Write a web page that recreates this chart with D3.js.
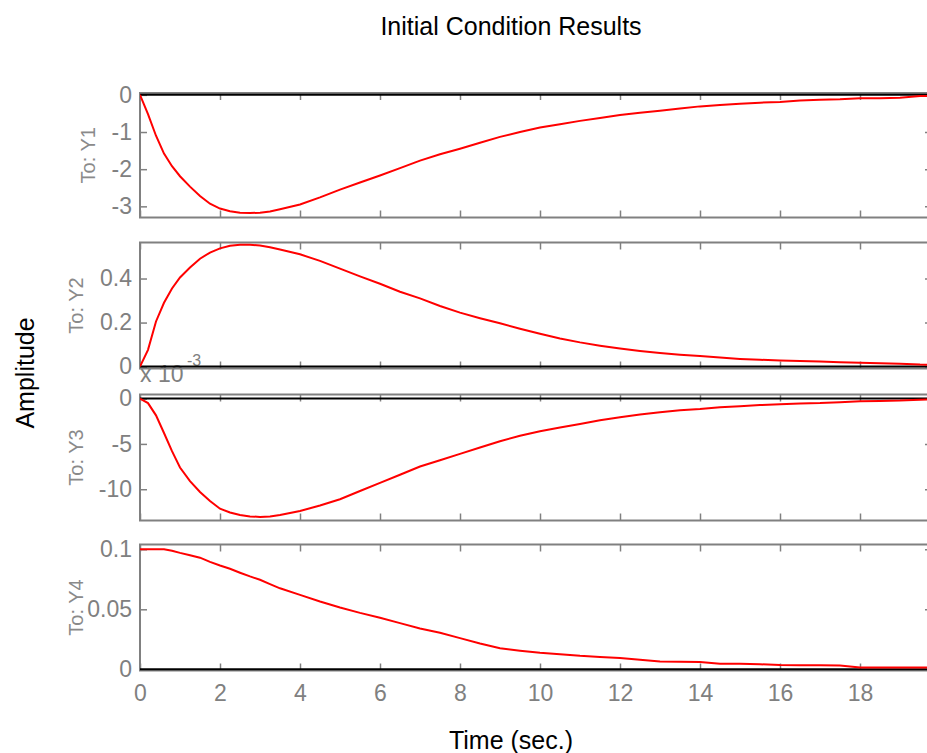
<!DOCTYPE html>
<html><head><meta charset="utf-8">
<script src="https://cdn.jsdelivr.net/npm/d3@7"></script>
<style>
body{margin:0;background:#fff}
svg{display:block}
text{font-family:"Liberation Sans",Arial,Helvetica,sans-serif}
</style>
</head><body>
<svg id="c" width="927" height="753"></svg>
<script>
// ---- data ----
const time = [0,0.2,0.4,0.6,0.8,1.0,1.25,1.5,1.75,2.0,2.25,2.5,2.75,3.0,3.25,3.5,
  4,4.5,5,5.5,6,6.5,7,7.5,8,8.5,9,9.5,10,10.5,11,11.5,12,12.5,13,13.5,14,14.5,15,15.5,16,16.5,17,17.5,18,18.5,19,19.5,19.8];
const y1 = [0,-0.52,-1.1,-1.58,-1.92,-2.19,-2.47,-2.72,-2.93,-3.06,-3.13,-3.17,-3.18,-3.17,-3.14,-3.08,
  -2.95,-2.76,-2.55,-2.36,-2.17,-1.97,-1.77,-1.60,-1.45,-1.29,-1.13,-1.0,-0.88,-0.79,-0.70,-0.62,-0.54,-0.48,-0.43,-0.37,-0.31,-0.27,-0.24,-0.21,-0.19,-0.15,-0.13,-0.12,-0.09,-0.09,-0.08,-0.03,-0.03];
const y2 = [0,0.076,0.205,0.29,0.355,0.405,0.45,0.49,0.518,0.537,0.549,0.553,0.553,0.55,0.542,0.532,
  0.51,0.48,0.445,0.41,0.376,0.34,0.31,0.275,0.245,0.22,0.197,0.172,0.149,0.128,0.11,0.095,0.082,0.071,0.062,0.054,0.048,0.041,0.035,0.031,0.028,0.026,0.023,0.02,0.017,0.015,0.013,0.009,0.008];
// Y3 in units of 1e-3
const y3 = [0,-0.5,-1.85,-3.8,-5.8,-7.6,-9.1,-10.3,-11.3,-12.15,-12.57,-12.85,-13.0,-13.05,-13.0,-12.85,
  -12.4,-11.8,-11.1,-10.2,-9.3,-8.4,-7.5,-6.8,-6.1,-5.4,-4.7,-4.1,-3.6,-3.2,-2.8,-2.4,-2.05,-1.75,-1.5,-1.3,-1.15,-0.95,-0.85,-0.72,-0.63,-0.55,-0.5,-0.4,-0.3,-0.27,-0.22,-0.12,-0.1];
const y4 = [0.1,0.1,0.1,0.1,0.0988,0.097,0.095,0.093,0.0895,0.0865,0.0838,0.0805,0.0774,0.0746,0.071,0.0675,
  0.062,0.0565,0.0515,0.047,0.043,0.0385,0.034,0.0305,0.026,0.0215,0.0175,0.0155,0.0138,0.0126,0.0112,0.0102,0.0095,0.008,0.0064,0.0062,0.006,0.0047,0.0047,0.0042,0.0035,0.0034,0.0033,0.0032,0.0015,0.0014,0.0014,0.0014,0.0014];
const channelLabels = ["To: Y1","To: Y2","To: Y3","To: Y4"];
const yTicks = [[0,-1,-2,-3],[0,0.2,0.4],[0,-5,-10],[0,0.05,0.1]];
const yLimits = [[-3.3,0.05],[-0.0086,0.5636],[-13.45,0.45],[-0.001,0.104]];
const xTicks = [0,2,4,6,8,10,12,14,16,18];
const xLimits = [0,19.8];
const titleText = "Initial Condition Results";
const xLabelText = "Time (sec.)";
const yLabelText = "Amplitude";
const exponentBase = "x 10", exponentPower = "-3";

// ---- drawing ----
const svg = d3.select("#c");
const gray = "#808080";
const left = 140, right = 932;
const panelTop = [93, 242.5, 394.5, 544.5];
const panelBot = [217.5, 368.5, 520.5, 670.5];
const labelX = [95, 83, 83, 83];
const series = [y1, y2, y3, y4];
const x = d3.scaleLinear().domain(xLimits).range([left, right]);

// title & axis labels
svg.append("text").attr("x",511).attr("y",35).attr("text-anchor","middle")
  .style("font-size","25px").attr("fill","#000").text(titleText);
svg.append("text").attr("x",511).attr("y",749).attr("text-anchor","middle")
  .style("font-size","25px").attr("fill","#000").text(xLabelText);
svg.append("text").attr("transform","translate(34,373) rotate(-90)").attr("text-anchor","middle")
  .style("font-size","25px").attr("fill","#000").text(yLabelText);

// exponent label for panel 3
const ex = svg.append("text").attr("x",140).attr("y",382).attr("fill",gray).style("font-size","23px");
ex.append("tspan").text(exponentBase);
ex.append("tspan").attr("x",187).attr("y",366).style("font-size","16px").text(exponentPower);

const defs = svg.append("defs");

series.forEach((vals, i) => {
  const y = d3.scaleLinear().domain(yLimits[i]).range([panelBot[i], panelTop[i]]);
  const g = svg.append("g");
  defs.append("clipPath").attr("id","clip"+i).append("rect")
    .attr("x",left).attr("y",panelTop[i]).attr("width",right-left).attr("height",panelBot[i]-panelTop[i]);

  const la = g.append("g").attr("transform",`translate(${left},0)`)
    .call(d3.axisLeft(y).tickValues(yTicks[i]).tickSize(-7).tickPadding(8).tickFormat(d=>String(d)));
  g.append("g").attr("transform",`translate(${right},0)`)
    .call(d3.axisRight(y).tickValues(yTicks[i]).tickSize(-7).tickFormat(""));
  g.append("g").attr("transform",`translate(0,${panelTop[i]})`)
    .call(d3.axisTop(x).tickValues(xTicks).tickSize(-7).tickFormat(""));
  g.append("g").attr("transform",`translate(0,${panelBot[i]})`)
    .call(d3.axisBottom(x).tickValues(xTicks).tickSize(-7).tickPadding(14)
      .tickFormat(i===3 ? (d=>String(d)) : ""));
  g.selectAll(".domain").remove();
  g.selectAll(".tick line").attr("stroke",gray).attr("stroke-width",1.5);
  g.selectAll(".tick text").attr("fill",gray).style("font-size","23px");

  g.append("rect").attr("x",left).attr("y",panelTop[i]).attr("width",right-left)
    .attr("height",panelBot[i]-panelTop[i]).attr("fill","none").attr("stroke",gray).attr("stroke-width",2);

  g.append("line").attr("x1",left).attr("x2",right).attr("y1",y(0)).attr("y2",y(0))
    .attr("stroke","#000").attr("stroke-width",2);

  const line = d3.line().x((d,k)=>x(time[k])).y(d=>y(d));
  g.append("path").datum(vals).attr("clip-path",`url(#clip${i})`)
    .attr("d",line).attr("fill","none").attr("stroke","#ff0000").attr("stroke-width",2);

  svg.append("text").attr("transform",`translate(${labelX[i]},${(panelTop[i]+panelBot[i])/2}) rotate(-90)`)
    .attr("text-anchor","middle").attr("fill","#8a8a8a").style("font-size","20px").text(channelLabels[i]);
});
</script>
</body></html>
